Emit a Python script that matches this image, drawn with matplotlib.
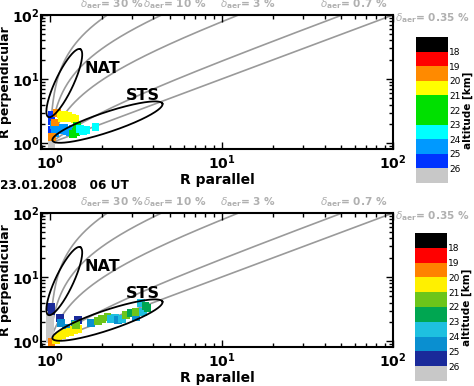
import numpy as np
import matplotlib
matplotlib.use("Agg")
import matplotlib.pyplot as plt
from matplotlib.colors import ListedColormap, BoundaryNorm

# ---------------- data ----------------
delta_mol = 0.35
delta_levels = [30, 10, 3, 0.7, 0.35]
delta_texts = ["30 %", "10 %", "3 %", "0.7 %", "0.35 %"]

alt_bounds = [17, 18, 19, 20, 21, 22, 23, 24, 25, 26, 27]
alt_ticks = [18, 19, 20, 21, 22, 23, 24, 25, 26]

colors_top = ["#000000", "#ff0000", "#ff8a00", "#ffff00", "#00e000", "#00e000",
              "#00ffff", "#0099ff", "#0033ff", "#c8c8c8"]
colors_bot = ["#000000", "#ff0000", "#ff8200", "#fff000", "#6cc51a", "#00a651",
              "#1ec0e0", "#0a8fd0", "#1a2a9a", "#c8c8c8"]

# panel 1 (no date)
rpar_1 = [1.02, 1.02, 1.03, 1.02, 1.02, 1.03, 1.02,
          1.05, 1.10, 1.15, 1.20, 1.25, 1.30, 1.07, 1.35,
          1.10, 1.03, 1.07,
          1.15, 1.20, 1.25, 1.30, 1.35, 1.40, 1.18, 1.28,
          1.44, 1.36, 1.42,
          1.84, 1.55, 1.50, 1.62]
rperp_1 = [0.95, 1.05, 1.12, 2.75, 2.50, 1.60, 2.20,
           1.90, 1.75, 1.60, 1.70, 1.55, 1.50, 1.45, 1.65,
           2.95, 1.25, 2.10,
           2.80, 2.75, 2.60, 2.50, 2.45, 2.40, 2.50, 2.70,
           1.85, 1.40, 1.50,
           1.80, 1.55, 1.65, 1.60]
alt_1 = [26.5, 26.5, 26.5, 25.5, 25.5, 25.5, 25.5,
         24.5, 24.5, 24.5, 24.5, 24.5, 24.5, 24.5, 24.5,
         19.5, 19.5, 19.5,
         20.5, 20.5, 20.5, 20.5, 20.5, 20.5, 20.5, 20.5,
         22.0, 22.0, 22.0,
         23.5, 23.5, 23.5, 23.5]

# panel 2 (23.01.2008 06 UT)
rpar_2 = [1.00, 1.00, 1.00, 1.00, 1.02,
          1.01, 1.02, 1.14, 1.46,
          1.16, 1.24, 1.31, 1.40,
          1.08, 1.12, 1.17, 1.22, 1.30, 1.38, 1.45,
          1.42,
          1.74, 1.90, 2.00, 2.16, 2.25, 2.40, 2.50, 2.62, 2.76, 2.95,
          3.16, 3.16, 3.38, 3.50, 3.70, 3.60]
rperp_2 = [2.30, 1.80, 1.40, 1.10, 0.97,
           3.40, 2.90, 2.29, 2.13,
           1.90, 1.60, 1.48, 1.85,
           1.05, 1.15, 1.25, 1.35, 1.40, 1.50, 1.55,
           1.78,
           1.91, 2.05, 2.20, 2.37, 2.25, 2.30, 2.13, 2.20, 2.55, 2.74,
           2.37, 2.85, 3.90, 2.85, 3.30, 3.50]
alt_2 = [26.5, 26.5, 26.5, 26.5, 19.5,
         25.5, 25.5, 25.5, 25.5,
         24.5, 24.5, 24.5, 24.5,
         20.5, 20.5, 20.5, 20.5, 20.5, 20.5, 20.5,
         21.5,
         24.5, 21.5, 21.5, 21.5, 23.5, 23.5, 24.5, 23.5, 21.5, 22.5,
         24.5, 21.5, 23.5, 23.5, 22.5, 22.5]

# ---------------- figure ----------------
plt.rcParams['font.family'] = ['DejaVu Sans']
plt.rcParams['mathtext.fontset'] = 'dejavusans'

W, H = 474, 386
fig = plt.figure(figsize=(W / 100, H / 100), dpi=100)

xlim = (0.885, 100)
ylim = (0.81, 100)
GRAY = "#9a9a9a"
LGRAY = "#b0b0b0"


def px_box(l, t, r, b):
    return [l / W, 1 - b / H, (r - l) / W, (b - t) / H]


def ellipse(ax, cx, cy, a_px, b_px, ang_deg):
    # ellipse defined in pixel-like units on the log axes
    bb = ax.get_window_extent()
    px_per_dec_x = bb.width / np.log10(xlim[1] / xlim[0])
    px_per_dec_y = bb.height / np.log10(ylim[1] / ylim[0])
    t = np.linspace(0, 2 * np.pi, 300)
    th = np.deg2rad(ang_deg)
    dx = a_px * np.cos(t) * np.cos(th) - b_px * np.sin(t) * np.sin(th)
    dy = a_px * np.cos(t) * np.sin(th) + b_px * np.sin(t) * np.cos(th)
    lx = np.log10(cx) + dx / px_per_dec_x
    ly = np.log10(cy) + dy / px_per_dec_y
    ax.plot(10 ** lx, 10 ** ly, color="black", lw=1.3, zorder=4)


def panel(ax_box, cb_box, rpar, rperp, alt, colors):
    ax = fig.add_axes(ax_box)
    ax.set_xscale('log')
    ax.set_yscale('log')
    ax.set_xlim(*xlim)
    ax.set_ylim(*ylim)
    xs = np.logspace(0, 2, 800)
    for d in delta_levels:
        k = d / delta_mol
        ax.plot(xs, 1 + k * (xs - 1), color=GRAY, lw=1.2, zorder=1)
    cmap = ListedColormap(colors)
    norm = BoundaryNorm(alt_bounds, cmap.N)
    sc = ax.scatter(rpar, rperp, c=alt, cmap=cmap, norm=norm, marker='s',
                    s=32, linewidths=0, zorder=3)
    fig.canvas.draw()
    ellipse(ax, 1.21, 8.66, 37.5, 9.0, 64.8)
    ellipse(ax, 2.16, 2.13, 58.0, 10.0, 18.5)
    ax.text(2.02, 14.8, "NAT", fontsize=11.5, fontweight='bold', ha='center', va='center')
    ax.text(3.48, 5.6, "STS", fontsize=11.5, fontweight='bold', ha='center', va='center')

    for s in ax.spines.values():
        s.set_linewidth(1.5)
    ax.tick_params(which='both', direction='in', top=True, right=True, width=1.0)
    ax.tick_params(which='major', length=5)
    ax.tick_params(which='minor', length=3)
    ax.set_xticks([1, 10, 100])
    ax.set_xticklabels([r'$\mathbf{10^{0}}$', r'$\mathbf{10^{1}}$', r'$\mathbf{10^{2}}$'])
    ax.set_yticks([1, 10, 100])
    ax.set_yticklabels([r'$\mathbf{10^{0}}$', r'$\mathbf{10^{1}}$', r'$\mathbf{10^{2}}$'])
    for lab in ax.get_xticklabels() + ax.get_yticklabels():
        lab.set_fontsize(10)
    ax.tick_params(axis='x', pad=3)
    ax.tick_params(axis='y', pad=1)
    ax.set_xlabel("R parallel", fontsize=10, fontweight='bold', labelpad=1)
    ax.set_ylabel("R perpendicular", fontsize=9, fontweight='bold', labelpad=0)

    # delta labels
    xpos = [0.11, 0.29, 0.508, 0.793]
    for xp, txt in zip(xpos, delta_texts[:4]):
        ax.text(xp, 1.08, r'$\delta_{\mathbf{aer}}$' + '= ' + txt, transform=ax.transAxes,
                fontsize=7.6, fontweight='bold', color=LGRAY, ha='left', va='center',
                clip_on=False)
    ax.text(1.006, 0.975, r'$\delta_{\mathbf{aer}}$' + '= ' + delta_texts[4],
            transform=ax.transAxes, fontsize=7.6, fontweight='bold', color=LGRAY,
            ha='left', va='center', clip_on=False)

    cax = fig.add_axes(cb_box)
    cb = fig.colorbar(sc, cax=cax, boundaries=alt_bounds, ticks=alt_ticks,
                      spacing='uniform')
    cb.outline.set_visible(False)
    cax.minorticks_off()
    cax.invert_yaxis()
    cax.tick_params(which='both', length=0, labelsize=6.5, pad=1)
    cb.set_label("altitude [km]", fontsize=7.5, fontweight='bold', labelpad=1)
    return ax


panel(px_box(41, 15, 393, 149), px_box(416, 37, 448, 183), rpar_1, rperp_1, alt_1, colors_top)
panel(px_box(41, 213, 393, 347), px_box(415, 233, 447, 381), rpar_2, rperp_2, alt_2, colors_bot)

fig.text(0.0, 1 - 186 / H, "23.01.2008   06 UT", fontsize=8.7, fontweight='bold',
         ha='left', va='center')

fig.savefig("out.png", dpi=100)
